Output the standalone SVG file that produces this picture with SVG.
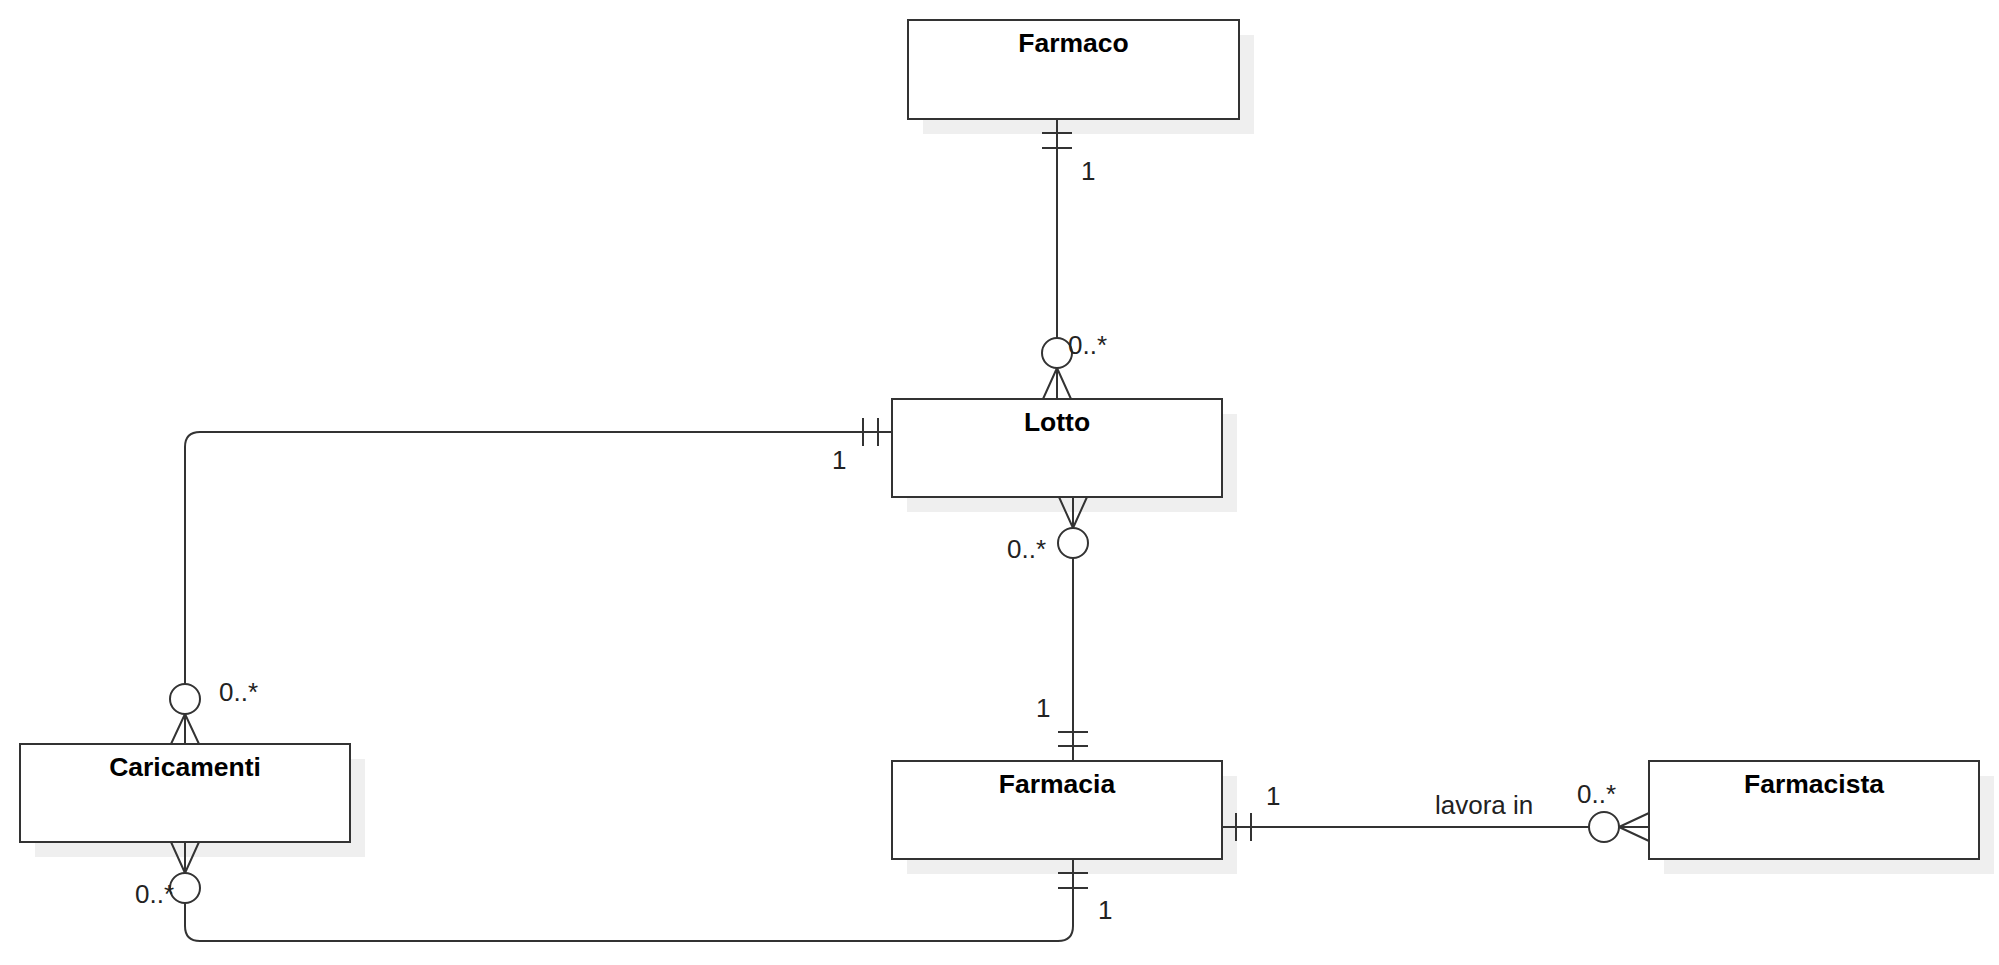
<svg xmlns="http://www.w3.org/2000/svg" width="1999" height="965" viewBox="0 0 1999 965">
<style>
.shadow{fill:#efefef;stroke:none}
.box{fill:#ffffff;stroke:#333333;stroke-width:2}
.title{font-family:"Liberation Sans",Arial,sans-serif;font-weight:bold;font-size:26.5px;fill:#000000;text-anchor:middle}
.lbl{font-family:"Liberation Sans",Arial,sans-serif;font-size:26px;fill:#222222}
.ln{fill:none;stroke:#333333;stroke-width:2}
.circ{fill:#ffffff;stroke:#333333;stroke-width:2}
</style>
<rect width="1999" height="965" fill="#ffffff"/>
<g id="farmaco">
  <rect class="shadow" x="923" y="35" width="331" height="99"/>
  <rect class="box" x="908" y="20" width="331" height="99"/>
  <text class="title" x="1073.5" y="52">Farmaco</text>
</g>
<g id="lotto">
  <rect class="shadow" x="907" y="414" width="330" height="98"/>
  <rect class="box" x="892" y="399" width="330" height="98"/>
  <text class="title" x="1057" y="431">Lotto</text>
</g>
<g id="farmacia">
  <rect class="shadow" x="907" y="776" width="330" height="98"/>
  <rect class="box" x="892" y="761" width="330" height="98"/>
  <text class="title" x="1057" y="793">Farmacia</text>
</g>
<g id="farmacista">
  <rect class="shadow" x="1664" y="776" width="330" height="98"/>
  <rect class="box" x="1649" y="761" width="330" height="98"/>
  <text class="title" x="1814" y="793">Farmacista</text>
</g>
<g id="caricamenti">
  <rect class="shadow" x="35" y="759" width="330" height="98"/>
  <rect class="box" x="20" y="744" width="330" height="98"/>
  <text class="title" x="185" y="776">Caricamenti</text>
</g>
<g id="connectors">
  <g id="c-farmaco-lotto">
    <path class="ln" d="M1057,119 V338"/>
    <path class="ln" d="M1042,133 H1072 M1042,148 H1072"/>
    <circle class="circ" cx="1057" cy="353" r="15"/>
    <path class="ln" d="M1057,368 V399 M1057,368 L1043,399 M1057,368 L1071,399"/>
    <text class="lbl" x="1081" y="180">1</text>
    <text class="lbl" x="1068" y="354">0..*</text>
  </g>
  <g id="c-lotto-farmacia">
    <path class="ln" d="M1073,497 V528 M1073,528 L1059,497 M1073,528 L1087,497"/>
    <circle class="circ" cx="1073" cy="543" r="15"/>
    <path class="ln" d="M1073,558 V761"/>
    <path class="ln" d="M1058,732 H1088 M1058,746 H1088"/>
    <text class="lbl" x="1007" y="558">0..*</text>
    <text class="lbl" x="1036" y="717">1</text>
  </g>
  <g id="c-lotto-caricamenti">
    <path class="ln" d="M892,432 H200 Q185,432 185,447 V684"/>
    <path class="ln" d="M863,418 V446 M878,418 V446"/>
    <circle class="circ" cx="185" cy="699" r="15"/>
    <path class="ln" d="M185,714 V744 M185,714 L171,744 M185,714 L199,744"/>
    <text class="lbl" x="219" y="701">0..*</text>
    <text class="lbl" x="832" y="469">1</text>
  </g>
  <g id="c-caricamenti-farmacia">
    <path class="ln" d="M185,842 V873 M185,873 L171,842 M185,873 L199,842"/>
    <circle class="circ" cx="185" cy="888" r="15"/>
    <path class="ln" d="M185,903 V926 Q185,941 200,941 H1058 Q1073,941 1073,926 V859"/>
    <path class="ln" d="M1058,873 H1088 M1058,888 H1088"/>
    <text class="lbl" x="135" y="903">0..*</text>
    <text class="lbl" x="1098" y="919">1</text>
  </g>
  <g id="c-farmacia-farmacista">
    <path class="ln" d="M1222,827 H1589"/>
    <path class="ln" d="M1236,813 V841 M1251,813 V841"/>
    <circle class="circ" cx="1604" cy="827" r="15"/>
    <path class="ln" d="M1619,827 H1649 M1619,827 L1649,813 M1619,827 L1649,841"/>
    <text class="lbl" x="1266" y="805">1</text>
    <text class="lbl" x="1435" y="814">lavora in</text>
    <text class="lbl" x="1577" y="803">0..*</text>
  </g>
</g>
</svg>
